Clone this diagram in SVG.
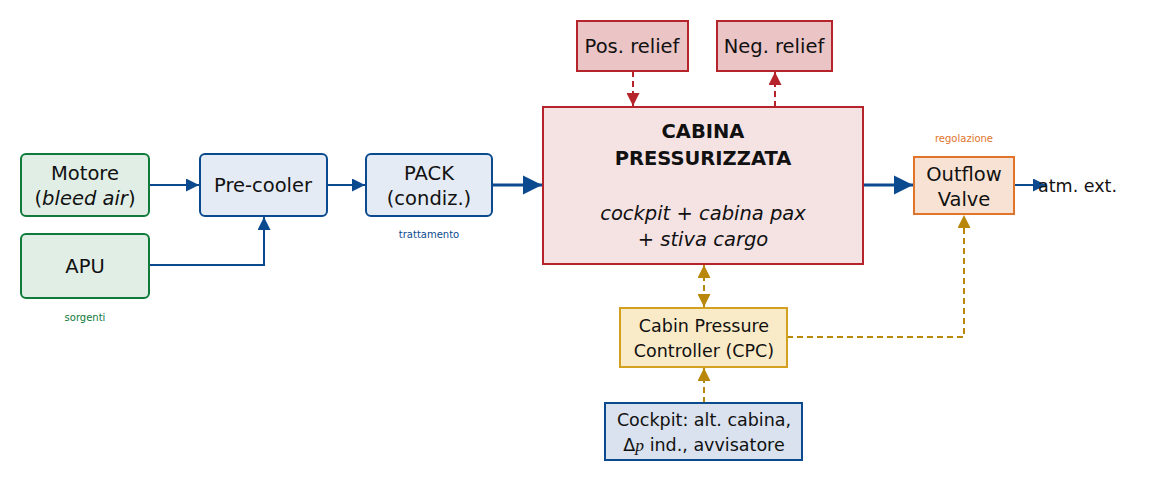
<svg xmlns="http://www.w3.org/2000/svg" width="1149" height="482" viewBox="0 0 1149 482">
<style>
text{font-family:"DejaVu Sans","Liberation Sans",sans-serif;fill:#111;text-anchor:middle}
.t{font-size:19.5px}
.s{font-size:17.5px}
.sm{font-size:10px}
.g{fill:#e0eee6;stroke:#0f7a3a;stroke-width:2}
.b{fill:#e4ebf4;stroke:#0b4a8f;stroke-width:2}
.r{fill:#f5e3e4;stroke:#b5232b;stroke-width:2}
.rr{fill:#ebc4c6;stroke:#b5232b;stroke-width:2}
.o{fill:#f8e2d3;stroke:#e0742a;stroke-width:2}
.y{fill:#faebc8;stroke:#d4a020;stroke-width:2}
.c{fill:#d9e2ee;stroke:#0b4a8f;stroke-width:2}
.lb{stroke:#0b4a8f;stroke-width:2;fill:none}
.lbt{stroke:#0b4a8f;stroke-width:3;fill:none}
.lr{stroke:#b5232b;stroke-width:2;fill:none;stroke-dasharray:6,4}
.ly{stroke:#b8870b;stroke-width:2;fill:none;stroke-dasharray:6,4}
</style>
<defs>
<marker id="abt" viewBox="0 0 10 10" refX="10" refY="5" markerWidth="6.5" markerHeight="6.5" orient="auto"><path d="M0,0 L10,5 L0,10 z" fill="#0b4a8f"/></marker>
<marker id="ar" viewBox="0 0 10 10" refX="10" refY="5" markerWidth="6.5" markerHeight="6.5" orient="auto"><path d="M0,0 L10,5 L0,10 z" fill="#b5232b"/></marker>
<marker id="ay" viewBox="0 0 10 10" refX="10" refY="5" markerWidth="6.5" markerHeight="6.5" orient="auto"><path d="M0,0 L10,5 L0,10 z" fill="#b8870b"/></marker>
<marker id="ays" viewBox="0 0 10 10" refX="0" refY="5" markerWidth="6.5" markerHeight="6.5" orient="auto"><path d="M10,0 L0,5 L10,10 z" fill="#b8870b"/></marker>
</defs>
<g id="connectors">
<path class="lb" d="M149,185 H199" marker-end="url(#abt)"/>
<path class="lb" d="M149,265 H264 V217" marker-end="url(#abt)"/>
<path class="lb" d="M327,185 H365" marker-end="url(#abt)"/>
<path class="lbt" d="M492,185 H542" marker-end="url(#abt)"/>
<path class="lbt" d="M863,185 H913" marker-end="url(#abt)"/>
<path class="lb" d="M1014,185 H1046" marker-end="url(#abt)"/>
<path class="lr" d="M633,71 V106" marker-end="url(#ar)"/>
<path class="lr" d="M775,107 V72" marker-end="url(#ar)"/>
<path class="ly" d="M704,265 V307" marker-start="url(#ays)" marker-end="url(#ay)"/>
<path class="ly" d="M704,403 V368" marker-end="url(#ay)"/>
<path class="ly" d="M787,337 H964 V215" marker-end="url(#ay)"/>
</g>
<g id="motore"><rect class="g" x="21" y="154" width="128" height="62" rx="5"/><text class="t" x="85" y="180">Motore</text><text class="t" x="85" y="205">(<tspan font-style="italic">bleed air</tspan>)</text></g>
<g id="apu"><rect class="g" x="21" y="234" width="128" height="64" rx="5"/><text class="t" x="85" y="273">APU</text></g>
<g id="lbl-sorgenti"><text class="sm" x="85" y="321" style="fill:#0f7a3a">sorgenti</text></g>
<g id="precooler"><rect class="b" x="200" y="154" width="127" height="62" rx="5"/><text class="t" x="263" y="192">Pre-cooler</text></g>
<g id="pack"><rect class="b" x="366" y="154" width="126" height="62" rx="5"/><text class="t" x="429" y="180">PACK</text><text class="t" x="429" y="205">(condiz.)</text></g>
<g id="lbl-trattamento"><text class="sm" x="429" y="238" style="fill:#0b4a8f">trattamento</text></g>
<g id="cabina"><rect class="r" x="543" y="107" width="320" height="157"/><text class="t" x="703" y="138" font-weight="bold">CABINA</text><text class="t" x="703" y="165" font-weight="bold">PRESSURIZZATA</text><text class="t" x="703" y="220" font-style="italic">cockpit + cabina pax</text><text class="t" x="703" y="246" font-style="italic">+ stiva cargo</text></g>
<g id="posrelief"><rect class="rr" x="577" y="21" width="111" height="50"/><text class="t" x="632" y="53">Pos. relief</text></g>
<g id="negrelief"><rect class="rr" x="717" y="21" width="115" height="50"/><text class="t" x="774" y="53">Neg. relief</text></g>
<g id="outflow"><rect class="o" x="914" y="157" width="100" height="57"/><text class="t" x="964" y="181">Outflow</text><text class="t" x="964" y="206">Valve</text></g>
<g id="lbl-regolazione"><text class="sm" x="964" y="142" style="fill:#e0742a">regolazione</text></g>
<g id="atm"><text class="s" x="1038" y="192" style="text-anchor:start">atm. ext.</text></g>
<g id="cpc"><rect class="y" x="620" y="308" width="167" height="59"/><text class="s" x="704" y="332">Cabin Pressure</text><text class="s" x="704" y="357">Controller (CPC)</text></g>
<g id="cockpit"><rect class="c" x="605" y="403" width="197" height="57"/><text class="s" x="704" y="426">Cockpit: alt. cabina,</text><text class="s" x="704" y="451">Δ<tspan font-family="Liberation Serif" font-style="italic">p</tspan> ind., avvisatore</text></g>
</svg>
